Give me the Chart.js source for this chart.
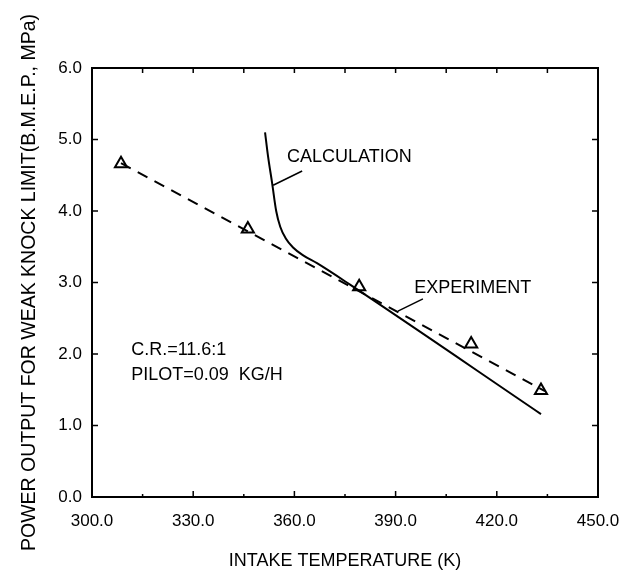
<!DOCTYPE html>
<html>
<head>
<meta charset="utf-8">
<script src="https://cdn.jsdelivr.net/npm/chart.js@4.4.0/dist/chart.umd.min.js"></script>
<style>
  html, body { margin: 0; padding: 0; background: #fff; }
  #wrap { width: 638px; height: 583px; }
</style>
</head>
<body>
<div id="wrap"><canvas id="knockChart" width="638" height="583"></canvas></div>
<script>
// axis ticks
const xTicks = [300, 330, 360, 390, 420, 450];
const yTicks = [0, 1, 2, 3, 4, 5, 6];

// experiment (triangles)
const expTemp = [308.6, 346.2, 379.2, 412.4, 433.1];
const expBmep = [4.66, 3.75, 2.94, 2.14, 1.49];

// dashed fit through the experiment
const fitTemp = [308.6, 434.3];
const fitBmep = [4.67, 1.48];

// calculation curve
const calcTemp = [351.3, 352.2, 353.4, 354.6, 355.8, 357.4, 359.6, 362.6, 366.7, 376.5, 433.1];
const calcBmep = [5.10, 4.76, 4.39, 4.00, 3.78, 3.62, 3.49, 3.38, 3.27, 2.97, 1.16];

// labels drawn inside the plot, in data units
const notes = [
    { text: 'CALCULATION', x: 357.8, y: 4.76 },
    { text: 'EXPERIMENT', x: 395.5, y: 2.92 },
    { text: 'C.R.=11.6:1', x: 311.6, y: 2.06 },
    { text: 'PILOT=0.09  KG/H', x: 311.6, y: 1.71 }
];
const leaders = [
    [[353.7, 4.36], [362.3, 4.56]],
    [[398.1, 2.77], [390.7, 2.60]]
];

const FONT = 'Arial, "Liberation Sans", sans-serif';

function toPts(xs, ys) {
    return xs.map((v, i) => ({ x: v, y: ys[i] }));
}

const frameAndNotes = {
    id: 'frameAndNotes',
    afterDraw(chart) {
        const { ctx, chartArea: a, scales: { x, y } } = chart;
        ctx.save();
        ctx.strokeStyle = '#000';
        ctx.fillStyle = '#000';
        ctx.lineWidth = 2;
        ctx.strokeRect(a.left, a.top, a.right - a.left, a.bottom - a.top);

        ctx.lineWidth = 1.5;
        ctx.beginPath();
        const minorStep = (xTicks[1] - xTicks[0]) / 2;
        for (let t = xTicks[0]; t <= xTicks[xTicks.length - 1]; t += minorStep) {
            const px = x.getPixelForValue(t);
            const major = xTicks.includes(t);
            // bottom: majors and minors
            ctx.moveTo(px, a.bottom);
            ctx.lineTo(px, a.bottom - (major ? 6 : 3));
            // top: all equal
            ctx.moveTo(px, a.top);
            ctx.lineTo(px, a.top + 5);
        }
        yTicks.forEach(v => {
            const py = y.getPixelForValue(v);
            ctx.moveTo(a.left, py);
            ctx.lineTo(a.left + 6, py);
            ctx.moveTo(a.right, py);
            ctx.lineTo(a.right - 6, py);
        });
        ctx.stroke();

        ctx.beginPath();
        leaders.forEach(([p0, p1]) => {
            ctx.moveTo(x.getPixelForValue(p0[0]), y.getPixelForValue(p0[1]));
            ctx.lineTo(x.getPixelForValue(p1[0]), y.getPixelForValue(p1[1]));
        });
        ctx.stroke();

        ctx.font = '18px ' + FONT;
        ctx.textAlign = 'left';
        ctx.textBaseline = 'middle';
        notes.forEach(n => {
            ctx.fillText(n.text, x.getPixelForValue(n.x), y.getPixelForValue(n.y));
        });
        ctx.restore();
    }
};

Chart.defaults.font.family = FONT;
Chart.defaults.color = '#000';

const knockChart = new Chart(document.getElementById('knockChart'), {
    type: 'scatter',
    data: {
        datasets: [
            {
                label: 'Calculation',
                data: toPts(calcTemp, calcBmep),
                showLine: true,
                borderColor: '#000',
                borderWidth: 2,
                pointRadius: 0,
                cubicInterpolationMode: 'monotone'
            },
            {
                label: 'Fit',
                data: toPts(fitTemp, fitBmep),
                showLine: true,
                borderColor: '#000',
                borderWidth: 2,
                borderDash: [11, 8],
                pointRadius: 0
            },
            {
                label: 'Experiment',
                data: toPts(expTemp, expBmep),
                showLine: false,
                pointStyle: 'triangle',
                pointRadius: 7,
                pointBorderWidth: 2,
                pointBorderColor: '#000',
                pointBackgroundColor: 'rgba(255,255,255,0)'
            }
        ]
    },
    options: {
        responsive: false,
        animation: false,
        layout: { padding: { top: 68, right: 40, left: 0, bottom: 0 } },
        plugins: {
            legend: { display: false },
            tooltip: { enabled: false }
        },
        scales: {
            x: {
                type: 'linear',
                min: xTicks[0],
                max: xTicks[xTicks.length - 1],
                afterFit: s => { s.height = 86; },
                afterBuildTicks: s => { s.ticks = xTicks.map(v => ({ value: v })); },
                grid: { display: false, drawTicks: false },
                border: { display: false },
                ticks: {
                    padding: 14,
                    font: { size: 17 },
                    callback: v => v.toFixed(1)
                },
                title: {
                    display: true,
                    text: 'INTAKE TEMPERATURE (K)',
                    font: { size: 18 },
                    padding: { top: 0, bottom: 11 }
                }
            },
            y: {
                type: 'linear',
                min: yTicks[0],
                max: yTicks[yTicks.length - 1],
                afterFit: s => { s.width = 92; },
                afterBuildTicks: s => { s.ticks = yTicks.map(v => ({ value: v })); },
                grid: { display: false, drawTicks: false },
                border: { display: false },
                ticks: {
                    padding: 10,
                    font: { size: 17 },
                    callback: v => v.toFixed(1)
                },
                title: {
                    display: true,
                    text: 'POWER OUTPUT FOR WEAK KNOCK LIMIT(B.M.E.P., MPa)',
                    font: { size: 19.5 },
                    padding: { top: 18, bottom: 0 }
                }
            }
        }
    },
    plugins: [frameAndNotes]
});
</script>
</body>
</html>
